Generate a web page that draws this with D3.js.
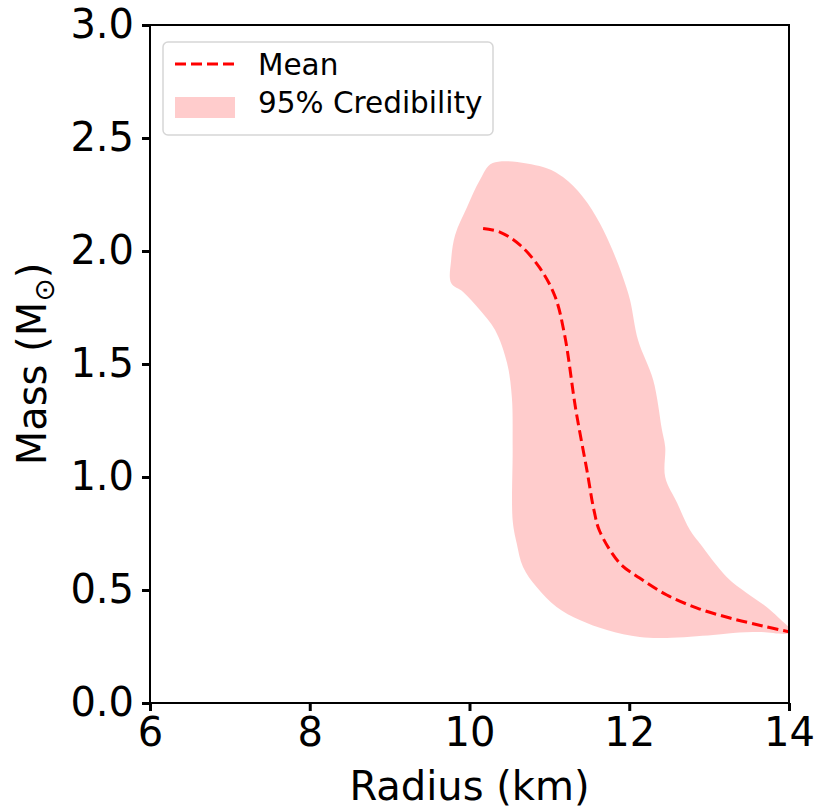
<!DOCTYPE html>
<html>
<head>
<meta charset="utf-8">
<script src="https://cdn.jsdelivr.net/npm/d3@7"></script>
<style>
  body { margin: 0; background: #fff; }
  text { font-family: "DejaVu Sans", sans-serif; fill: #000; }
</style>
</head>
<body>
<div id="chart"></div>
<script>
// mean M-R curve
var meanRadius = [10.17, 10.38, 10.63, 10.88, 11.07, 11.19, 11.33, 11.47, 11.56, 11.63, 11.88, 12.13, 12.47, 12.85, 13.26, 13.67, 14.0];
var meanMass   = [2.10, 2.084, 2.027, 1.925, 1.80, 1.63, 1.30, 1.03, 0.85, 0.76, 0.619, 0.553, 0.478, 0.420, 0.376, 0.341, 0.315];

// 95% band outline, clockwise from top-left
var bandRadius = [10.29, 10.92, 11.17, 11.42, 11.63, 11.79, 11.92, 12.01, 12.11, 12.30, 12.41, 12.45, 12.45, 12.60, 12.76, 12.88, 13.22, 13.47, 13.72, 13.97, 14.0,
                  14.0, 13.63, 13.30, 13.05, 12.47, 12.13, 11.72, 11.38, 11.09, 10.84, 10.67, 10.59, 10.54, 10.54, 10.53, 10.47, 10.32, 10.13, 9.92, 9.77, 9.77, 9.82, 9.97, 10.13];
var bandMass   = [2.389, 2.372, 2.327, 2.239, 2.124, 2.004, 1.885, 1.783, 1.606, 1.429, 1.208, 1.133, 1.000, 0.885, 0.765, 0.708, 0.558, 0.487, 0.425, 0.345, 0.335,
                  0.31, 0.314, 0.310, 0.301, 0.288, 0.292, 0.323, 0.367, 0.425, 0.513, 0.602, 0.708, 0.810, 1.133, 1.354, 1.504, 1.650, 1.739, 1.819, 1.858, 1.960, 2.071, 2.195, 2.314];

var xTicks = [6, 8, 10, 12, 14];
var yTicks = [0, 0.5, 1.0, 1.5, 2.0, 2.5, 3.0];
var legendLabels = ["Mean", "95% Credibility"];

var margin = {top: 25, right: 26, bottom: 105, left: 150}
  , width = 639
  , height = 678;

var x = d3.scaleLinear().domain([6, 14]).range([0, width]);
var y = d3.scaleLinear().domain([0, 3]).range([height, 0]);

var svg = d3.select("#chart").append("svg")
    .attr("width", 815)
    .attr("height", 808)
  .append("g")
    .attr("transform", "translate(" + margin.left + "," + margin.top + ")");

svg.append("defs").append("clipPath").attr("id", "clip")
  .append("rect").attr("width", width).attr("height", height);

var band = d3.range(bandRadius.length).map(function(i) { return [bandRadius[i], bandMass[i]]; });
var mean = d3.range(meanRadius.length).map(function(i) { return [meanRadius[i], meanMass[i]]; });

var bandLine = d3.line()
    .x(function(d) { return x(d[0]); })
    .y(function(d) { return y(d[1]); })
    .curve(d3.curveCatmullRomClosed.alpha(0.5));

var meanLine = d3.line()
    .x(function(d) { return x(d[0]); })
    .y(function(d) { return y(d[1]); })
    .curve(d3.curveCatmullRom.alpha(0.5));

svg.append("path")
    .datum(band)
    .attr("clip-path", "url(#clip)")
    .attr("d", bandLine)
    .attr("fill", "red")
    .attr("fill-opacity", 0.2);

svg.append("path")
    .datum(mean)
    .attr("clip-path", "url(#clip)")
    .attr("d", meanLine)
    .attr("fill", "none")
    .attr("stroke", "red")
    .attr("stroke-width", 3)
    .attr("stroke-dasharray", "11,5");

// axes
var xAxis = svg.append("g")
    .attr("transform", "translate(0," + height + ")")
    .call(d3.axisBottom(x).tickValues(xTicks).tickSize(8).tickPadding(7).tickFormat(d3.format("d")));
var yAxis = svg.append("g")
    .call(d3.axisLeft(y).tickValues(yTicks).tickSize(8).tickPadding(8).tickFormat(d3.format(".1f")));

[xAxis, yAxis].forEach(function(a) {
  a.select(".domain").remove();
  a.selectAll("line").attr("stroke", "#000").attr("stroke-width", 3);
  a.selectAll("text").attr("font-size", 40).attr("font-family", "DejaVu Sans").attr("fill", "#000");
});

svg.append("rect")
    .attr("width", width).attr("height", height)
    .attr("fill", "none").attr("stroke", "#000").attr("stroke-width", 2);

// axis labels
svg.append("text")
    .attr("x", width / 2).attr("y", 775)
    .attr("text-anchor", "middle")
    .attr("font-size", 40)
    .text("Radius (km)");

var ylab = svg.append("text")
    .attr("transform", "translate(-104," + (height / 2) + ") rotate(-90)")
    .attr("text-anchor", "middle")
    .attr("font-size", 40);
ylab.append("tspan").text("Mass (M");
ylab.append("tspan").attr("font-size", 28).attr("dy", 8).text("\u2299");
ylab.append("tspan").attr("dy", -8).text(")");

// legend
var lg = svg.append("g").attr("transform", "translate(13,17)");
lg.append("rect")
    .attr("width", 330).attr("height", 93).attr("rx", 5)
    .attr("fill", "#fff").attr("fill-opacity", 0.8)
    .attr("stroke", "#d6d6d6").attr("stroke-width", 1.5);
lg.append("line")
    .attr("x1", 12).attr("x2", 72).attr("y1", 22).attr("y2", 22)
    .attr("stroke", "red").attr("stroke-width", 3).attr("stroke-dasharray", "11,5");
lg.append("rect")
    .attr("x", 12).attr("y", 55).attr("width", 60).attr("height", 21)
    .attr("fill", "red").attr("fill-opacity", 0.2);
lg.selectAll(".lt")
    .data(legendLabels)
  .enter().append("text")
    .attr("class", "lt")
    .attr("x", 95)
    .attr("y", function(d, i) { return 33 + i * 38; })
    .attr("font-size", 29.5)
    .text(function(d) { return d; });
</script>
</body>
</html>
